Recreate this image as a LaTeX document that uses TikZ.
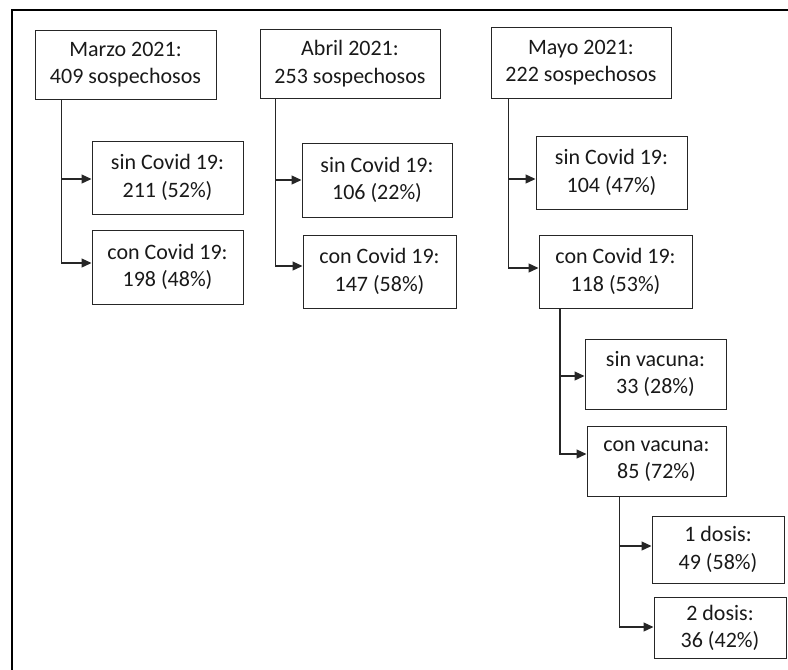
\documentclass[tikz,border=0pt]{standalone}
\usepackage{fontspec}
\setmainfont{Carlito}
\usetikzlibrary{arrows.meta}
\begin{document}
\begin{tikzpicture}[x=1pt,y=-1pt,
  box/.style={draw=black!85,line width=1pt,inner sep=0pt,align=center,
    font=\fontsize{22}{27.5}\selectfont,text=black!90},
  conn/.style={draw=black!85,line width=1.3pt,-{Triangle[length=10pt,width=9pt]}},
  frameline/.style={draw=black,line width=2pt}]
\useasboundingbox (0,0) rectangle (788,670);
\draw[frameline] (788,10) -- (12,10) -- (12,670);
% Marzo
\node[box,minimum width=181pt,minimum height=69pt] (m0) at (125.5,64.5) {Marzo 2021:\\409 sospechosos};
\node[box,minimum width=151pt,minimum height=73pt] (m1) at (167.5,177.5) {sin Covid 19:\\211 (52\%)};
\node[box,minimum width=151pt,minimum height=74pt] (m2) at (167.5,267) {con Covid 19:\\198 (48\%)};
% Abril
\node[box,minimum width=180pt,minimum height=69pt] (a0) at (350,63.5) {Abril 2021:\\253 sospechosos};
\node[box,minimum width=150pt,minimum height=74pt] (a1) at (377,180) {sin Covid 19:\\106 (22\%)};
\node[box,minimum width=153pt,minimum height=73pt] (a2) at (379.5,271.5) {con Covid 19:\\147 (58\%)};
% Mayo
\node[box,minimum width=180pt,minimum height=71pt] (y0) at (581,62.5) {Mayo 2021:\\222 sospechosos};
\node[box,minimum width=151pt,minimum height=73pt] (y1) at (611.5,172.5) {sin Covid 19:\\104 (47\%)};
\node[box,minimum width=153pt,minimum height=73pt] (y2) at (615.5,271.5) {con Covid 19:\\118 (53\%)};
\node[box,minimum width=141pt,minimum height=70pt] (v1) at (655.5,374) {sin vacuna:\\33 (28\%)};
\node[box,minimum width=139pt,minimum height=70pt] (v2) at (656.5,461) {con vacuna:\\85 (72\%)};
\node[box,minimum width=132pt,minimum height=67pt] (d1) at (718,549.5) {1 dosis:\\49 (58\%)};
\node[box,minimum width=132pt,minimum height=61pt] (d2) at (720,628) {2 dosis:\\36 (42\%)};
% connectors
\draw[conn] ([xshift=27pt]m0.south west) |- ([yshift=-1.5pt]m1.west);
\draw[conn] ([xshift=27pt]m0.south west) |- ([yshift=4pt]m2.west);
\draw[conn] ([xshift=16pt]a0.south west) |- (a1.west);
\draw[conn] ([xshift=16pt]a0.south west) |- ([yshift=5.5pt]a2.west);
\draw[conn] ([xshift=18pt]y0.south west) |- ([yshift=-6.5pt]y1.west);
\draw[conn] ([xshift=18pt]y0.south west) |- ([yshift=3.5pt]y2.west);
\draw[conn] ([xshift=21.5pt]y2.south west) |- ([yshift=-2pt]v1.west);
\draw[conn] ([xshift=21.5pt]y2.south west) |- ([yshift=7pt]v2.west);
\draw[conn] ([xshift=33pt]v2.south west) |- ([yshift=3.5pt]d1.west);
\draw[conn] ([xshift=33pt]v2.south west) |- ([yshift=1pt]d2.west);
\end{tikzpicture}
\end{document}
